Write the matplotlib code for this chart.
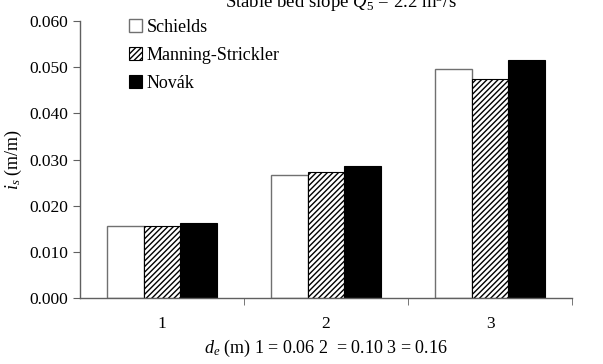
import matplotlib
matplotlib.use("Agg")
import matplotlib.pyplot as plt
import numpy as np

categories = ["1", "2", "3"]
schields = [0.0156, 0.0267, 0.0497]
manning = [0.0157, 0.0274, 0.0474]
novak = [0.0163, 0.0287, 0.0515]
yticks = [0.000, 0.010, 0.020, 0.030, 0.040, 0.050, 0.060]

plt.rcParams['font.family'] = ['Liberation Serif', 'DejaVu Serif']
plt.rcParams['mathtext.fontset'] = 'custom'
plt.rcParams['mathtext.rm'] = 'Liberation Serif'
plt.rcParams['mathtext.it'] = 'Liberation Serif:italic'
plt.rcParams['hatch.linewidth'] = 1.0

fig = plt.figure(figsize=(6.03, 3.64), dpi=100)
ax = fig.add_axes([0.1327, 0.181, 0.8159, 0.761])

x = np.arange(1, len(categories) + 1)
w = 0.223
ax.bar(x - w, schields, w, color='white', edgecolor='#707070', linewidth=1.0, label='Schields')
ax.bar(x, manning, w, color='white', edgecolor='black', hatch='//////', linewidth=0.8, label='Manning-Strickler')
ax.bar(x + w, novak, w, color='black', edgecolor='black', linewidth=0.8, label='Novák')

ax.set_xlim(0.5, 3.5)
ax.set_ylim(0, 0.060)
ax.set_yticks(yticks)
ax.set_yticklabels([f"{v:.3f}" for v in yticks], fontsize=12.5)
ax.set_xticks(x)
ax.set_xticklabels(categories, fontsize=12.5)
ax.tick_params(axis='x', which='major', length=0, pad=13)
ax.set_xticks([1.5, 2.5, 3.5], minor=True)
ax.tick_params(axis='x', which='minor', length=5, direction='out', color='#606060')
ax.tick_params(axis='y', length=5, direction='out', color='#606060')

for s in ['top', 'right']:
    ax.spines[s].set_visible(False)
for s in ['left', 'bottom']:
    ax.spines[s].set_color('#606060')
    ax.spines[s].set_linewidth(1.0)

ax.set_ylabel(r"$i_s$ (m/m)", fontsize=13, labelpad=4)
ax.set_xlabel(r"$d_e$ (m) 1 = 0.06 2  = 0.10 3 = 0.16", fontsize=13, labelpad=4)

leg = ax.legend(loc='upper left', bbox_to_anchor=(0.084, 1.035), frameon=False, fontsize=13,
                handlelength=0.75, handleheight=0.75, handletextpad=0.25, labelspacing=0.62,
                borderaxespad=0)

fig.text(0.565, 0.978, r"Stable bed slope $Q_5$ = 2.2 m$^3$/s", ha='center', va='baseline', fontsize=13.5)

fig.savefig("out.png", dpi=100)
